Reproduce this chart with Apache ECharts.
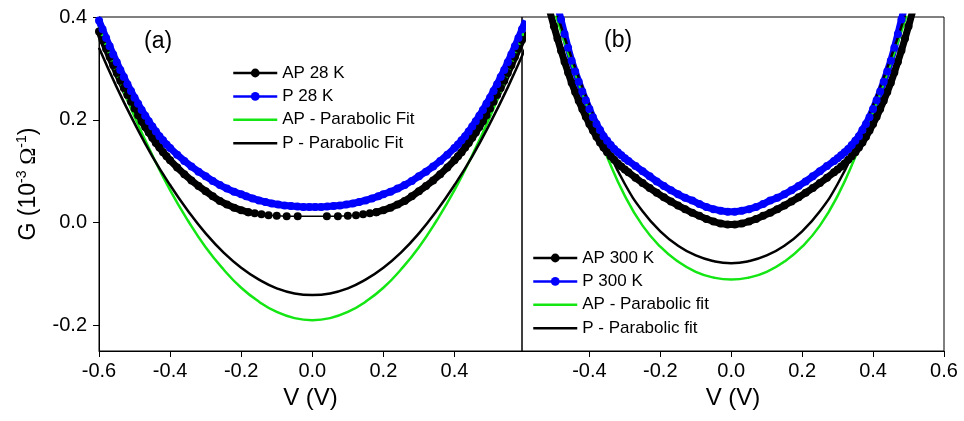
<!DOCTYPE html>
<html>
<head>
<meta charset="utf-8">
<script src="https://cdn.jsdelivr.net/npm/echarts@6/dist/echarts.min.js"></script>
<style>
  html, body { margin: 0; padding: 0; background: #fff; }
  #chart { width: 964px; height: 421px; }
</style>
</head>
<body>
<div id="chart"></div>
<script>
// panel (a): 28 K
const vAP28 = [-0.6, -0.59, -0.58, -0.57, -0.56, -0.55, -0.54, -0.53, -0.52, -0.51, -0.5, -0.49, -0.48, -0.47, -0.46, -0.45, -0.44, -0.43, -0.42, -0.41, -0.4,
  -0.38, -0.36, -0.34, -0.32, -0.3, -0.28, -0.26, -0.24, -0.22, -0.2, -0.18, -0.162, -0.143, -0.123, -0.1, -0.072, -0.041,
  0.041, 0.072, 0.1, 0.123, 0.143, 0.162, 0.18, 0.2, 0.22, 0.24, 0.26, 0.28, 0.3, 0.32, 0.34, 0.36, 0.38,
  0.4, 0.41, 0.42, 0.43, 0.44, 0.45, 0.46, 0.47, 0.48, 0.49, 0.5, 0.51, 0.52, 0.53, 0.54, 0.55, 0.56, 0.57, 0.58, 0.59, 0.6];
const gAP28 = [0.372, 0.355, 0.338, 0.322, 0.306, 0.291, 0.276, 0.262, 0.248, 0.235, 0.222, 0.209, 0.197, 0.186, 0.175, 0.165, 0.155, 0.146, 0.137, 0.129, 0.121,
  0.107, 0.094, 0.082, 0.071, 0.061, 0.051, 0.042, 0.035, 0.029, 0.024, 0.02, 0.018, 0.016, 0.014, 0.013, 0.012, 0.012,
  0.012, 0.012, 0.013, 0.014, 0.016, 0.018, 0.02, 0.024, 0.029, 0.035, 0.042, 0.051, 0.061, 0.071, 0.082, 0.094, 0.107,
  0.121, 0.129, 0.137, 0.146, 0.155, 0.165, 0.175, 0.186, 0.197, 0.209, 0.222, 0.235, 0.248, 0.262, 0.276, 0.291, 0.306, 0.322, 0.338, 0.355, 0.372];

const vP28 = [-0.6, -0.59, -0.58, -0.57, -0.56, -0.55, -0.54, -0.53, -0.52, -0.51, -0.5, -0.49, -0.48, -0.47, -0.46, -0.45, -0.44, -0.43, -0.42, -0.41, -0.4,
  -0.38, -0.36, -0.34, -0.32, -0.3, -0.28, -0.26, -0.24, -0.22, -0.2, -0.186, -0.168, -0.15, -0.132, -0.114, -0.096, -0.078, -0.06, -0.042, -0.025, -0.008,
  0.008, 0.025, 0.042, 0.06, 0.078, 0.096, 0.114, 0.132, 0.15, 0.168, 0.186, 0.2, 0.22, 0.24, 0.26, 0.28, 0.3, 0.32, 0.34, 0.36, 0.38,
  0.4, 0.41, 0.42, 0.43, 0.44, 0.45, 0.46, 0.47, 0.48, 0.49, 0.5, 0.51, 0.52, 0.53, 0.54, 0.55, 0.56, 0.57, 0.58, 0.59, 0.6];
const gP28 = [0.393, 0.376, 0.359, 0.343, 0.327, 0.312, 0.297, 0.283, 0.269, 0.256, 0.243, 0.231, 0.219, 0.208, 0.197, 0.187, 0.177, 0.168, 0.16, 0.152, 0.145,
  0.132, 0.12, 0.109, 0.099, 0.09, 0.081, 0.073, 0.066, 0.06, 0.055, 0.051, 0.047, 0.043, 0.04, 0.037, 0.035, 0.033, 0.032, 0.031, 0.03, 0.03,
  0.03, 0.03, 0.031, 0.032, 0.033, 0.035, 0.037, 0.04, 0.043, 0.047, 0.051, 0.055, 0.06, 0.066, 0.073, 0.081, 0.09, 0.099, 0.109, 0.12, 0.132,
  0.145, 0.152, 0.16, 0.168, 0.177, 0.187, 0.197, 0.208, 0.219, 0.231, 0.243, 0.256, 0.269, 0.283, 0.297, 0.312, 0.327, 0.343, 0.359, 0.376, 0.393];

const vFit = [-0.6, -0.55, -0.5, -0.45, -0.4, -0.35, -0.3, -0.25, -0.2, -0.15, -0.1, -0.05, 0, 0.05, 0.1, 0.15, 0.2, 0.25, 0.3, 0.35, 0.4, 0.45, 0.5, 0.55, 0.6];
const gFitAP28 = [0.38, 0.289, 0.206, 0.131, 0.063, 0.004, -0.048, -0.091, -0.127, -0.154, -0.174, -0.186, -0.19,
  -0.186, -0.174, -0.154, -0.127, -0.091, -0.048, 0.004, 0.063, 0.131, 0.206, 0.289, 0.38];
const gFitP28 = [0.34, 0.263, 0.193, 0.129, 0.073, 0.023, -0.021, -0.058, -0.088, -0.111, -0.128, -0.138, -0.141,
  -0.138, -0.128, -0.111, -0.088, -0.058, -0.021, 0.023, 0.073, 0.129, 0.193, 0.263, 0.34];

// panel (b): 300 K
const v300 = [-0.52, -0.51, -0.5, -0.49, -0.48, -0.47, -0.46, -0.45, -0.44, -0.43, -0.42, -0.41, -0.4, -0.39, -0.38, -0.37, -0.36, -0.35, -0.34, -0.33, -0.32, -0.31, -0.3,
  -0.29, -0.27, -0.25, -0.23, -0.21, -0.19, -0.17, -0.15, -0.13, -0.11, -0.09, -0.07, -0.05, -0.03, -0.01,
  0.01, 0.03, 0.05, 0.07, 0.09, 0.11, 0.13, 0.15, 0.17, 0.19, 0.21, 0.23, 0.25, 0.27, 0.29,
  0.3, 0.31, 0.32, 0.33, 0.34, 0.35, 0.36, 0.37, 0.38, 0.39, 0.4, 0.41, 0.42, 0.43, 0.44, 0.45, 0.46, 0.47, 0.48, 0.49, 0.5, 0.51, 0.52];
const gAP300 = [0.433, 0.407, 0.382, 0.358, 0.335, 0.313, 0.292, 0.272, 0.254, 0.237, 0.221, 0.206, 0.192, 0.179, 0.167, 0.156, 0.146, 0.137, 0.129, 0.122, 0.115, 0.109, 0.103,
  0.098, 0.087, 0.077, 0.067, 0.058, 0.049, 0.041, 0.033, 0.026, 0.019, 0.013, 0.007, 0.002, -0.002, -0.004,
  -0.004, -0.002, 0.002, 0.007, 0.013, 0.019, 0.026, 0.033, 0.041, 0.049, 0.058, 0.067, 0.077, 0.087, 0.098,
  0.103, 0.109, 0.115, 0.122, 0.129, 0.137, 0.146, 0.156, 0.167, 0.179, 0.192, 0.206, 0.221, 0.237, 0.254, 0.272, 0.292, 0.313, 0.335, 0.358, 0.382, 0.407, 0.433];
const gP300 = [0.51, 0.48, 0.451, 0.423, 0.395, 0.367, 0.34, 0.315, 0.294, 0.274, 0.255, 0.238, 0.221, 0.205, 0.192, 0.18, 0.168, 0.159, 0.151, 0.143, 0.137, 0.131, 0.125,
  0.12, 0.11, 0.1, 0.09, 0.08, 0.071, 0.063, 0.055, 0.048, 0.043, 0.036, 0.03, 0.026, 0.023, 0.021,
  0.021, 0.023, 0.026, 0.03, 0.036, 0.043, 0.048, 0.055, 0.063, 0.071, 0.08, 0.09, 0.1, 0.11, 0.12,
  0.125, 0.131, 0.137, 0.143, 0.151, 0.159, 0.168, 0.18, 0.192, 0.205, 0.221, 0.238, 0.255, 0.274, 0.294, 0.315, 0.34, 0.367, 0.395, 0.423, 0.451, 0.48, 0.51];
const gFitAP300 = [0.66, 0.53, 0.415, 0.31, 0.215, 0.128, 0.052, -0.006, -0.047, -0.076, -0.096, -0.107, -0.111,
  -0.107, -0.096, -0.076, -0.047, -0.006, 0.052, 0.128, 0.215, 0.31, 0.415, 0.53, 0.66];
const gFitP300 = [0.67, 0.54, 0.425, 0.32, 0.228, 0.145, 0.075, 0.022, -0.017, -0.045, -0.064, -0.075, -0.079,
  -0.075, -0.064, -0.045, -0.017, 0.022, 0.075, 0.145, 0.228, 0.32, 0.425, 0.54, 0.67];

const gTicks = [-0.2, 0, 0.2, 0.4];
const vTicksA = [-0.6, -0.4, -0.2, 0, 0.2, 0.4];
const vTicksB = [-0.4, -0.2, 0, 0.2, 0.4, 0.6];

const FONT = '"Liberation Sans", Arial, sans-serif';
const GREEN = '#14e614';
const BLUE = '#0000ff';
const LINE_ICON = 'path://M0,0 L44,0 L44,2.6 L0,2.6 Z';

function pairs(xs, ys) {
  return xs.map((x, i) => [x, ys[i]]);
}

// dense measured points: a thick line under the dots keeps the band solid
function measured(name, data, color, axis, width) {
  return {
    name,
    type: 'line',
    xAxisIndex: axis,
    yAxisIndex: axis,
    data,
    symbol: 'circle',
    symbolSize: 8,
    showAllSymbol: true,
    itemStyle: { color },
    lineStyle: { color, width },
  };
}

function fit(name, ys, color, axis) {
  return {
    name,
    type: 'line',
    xAxisIndex: axis,
    yAxisIndex: axis,
    data: pairs(vFit, ys),
    symbol: 'none',
    smooth: true,
    z: 3,
    itemStyle: { color },
    lineStyle: { color, width: 2.5 },
  };
}

function xAxisFor(index, min, max, ticks) {
  return {
    type: 'value',
    gridIndex: index,
    min,
    max,
    name: 'V (V)',
    nameLocation: 'middle',
    nameGap: 35,
    nameTextStyle: { fontFamily: FONT, fontSize: 24, color: '#000' },
    axisLine: { onZero: false, lineStyle: { color: '#000', width: 1 } },
    axisTick: { customValues: ticks, length: 6, lineStyle: { color: '#000' } },
    axisLabel: {
      customValues: ticks,
      margin: 10,
      fontFamily: FONT,
      fontSize: 20,
      color: '#000',
      formatter: (v) => v.toFixed(1),
    },
    splitLine: { show: false },
  };
}

const legendBase = {
  orient: 'vertical',
  itemWidth: 44,
  itemHeight: 11,
  itemGap: 3.4,
  padding: 0,
  lineStyle: { width: 2.5 },
  textStyle: { fontFamily: FONT, fontSize: 17, color: '#000', lineHeight: 20 },
};

const ap28 = pairs(vAP28, gAP28);
const p28 = pairs(vP28, gP28);
const ap300 = pairs(v300, gAP300);
const p300 = pairs(v300, gP300);

const chart = echarts.init(document.getElementById('chart'));
chart.setOption({
  animation: false,
  backgroundColor: '#fff',
  grid: [
    { left: 99, top: 17, width: 423, height: 334, show: true, borderColor: '#000', borderWidth: 1 },
    { left: 522, top: 17, width: 422, height: 334, show: true, borderColor: '#000', borderWidth: 1 },
  ],
  xAxis: [xAxisFor(0, -0.6, 0.59, vTicksA), xAxisFor(1, -0.59, 0.6, vTicksB)],
  yAxis: [
    {
      type: 'value',
      gridIndex: 0,
      min: -0.25,
      max: 0.4,
      name: '{a|G (10}{s|-3}{o| Ω}{s|-1}{a|)}',
      nameLocation: 'middle',
      nameRotate: 90,
      nameGap: 56,
      nameTextStyle: {
        rich: {
          a: { fontFamily: FONT, fontSize: 23, color: '#000', lineHeight: 28 },
          o: { fontFamily: '"Liberation Serif", serif', fontSize: 23, color: '#000', lineHeight: 28 },
          s: { fontFamily: FONT, fontSize: 14, color: '#000', lineHeight: 28, verticalAlign: 'top' },
        },
      },
      axisLine: { show: true, onZero: false, lineStyle: { color: '#000', width: 1 } },
      axisTick: { customValues: gTicks, length: 6, lineStyle: { color: '#000' } },
      axisLabel: {
        customValues: gTicks,
        margin: 12,
        fontFamily: FONT,
        fontSize: 20,
        color: '#000',
        formatter: (v) => v.toFixed(1),
      },
      splitLine: { show: false },
    },
    { type: 'value', gridIndex: 1, min: -0.25, max: 0.4, show: false, splitLine: { show: false } },
  ],
  legend: [
    {
      ...legendBase,
      left: 232,
      top: 63,
      data: ['AP 28 K', 'P 28 K', { name: 'AP - Parabolic Fit', icon: LINE_ICON }, { name: 'P - Parabolic Fit', icon: LINE_ICON }],
    },
    {
      ...legendBase,
      left: 532,
      top: 248,
      data: ['AP 300 K', 'P 300 K', { name: 'AP - Parabolic fit', icon: LINE_ICON }, { name: 'P - Parabolic fit', icon: LINE_ICON }],
    },
  ],
  graphic: [
    { type: 'text', left: 144, top: 30, style: { text: '(a)', font: '23px "Liberation Sans"', fill: '#000' } },
    { type: 'text', left: 604, top: 29, style: { text: '(b)', font: '23px "Liberation Sans"', fill: '#000' } },
  ],
  series: [
    // AP 28 K: solid band outside |V| = 0.18, separate dots with a thin line inside
    measured('AP 28 K', ap28.filter((p) => p[0] <= -0.18), '#000', 0, 7),
    measured('AP 28 K', ap28.filter((p) => Math.abs(p[0]) <= 0.18), '#000', 0, 1.5),
    measured('AP 28 K', ap28.filter((p) => p[0] >= 0.18), '#000', 0, 7),
    measured('P 28 K', p28, BLUE, 0, 7),
    fit('AP - Parabolic Fit', gFitAP28, GREEN, 0),
    fit('P - Parabolic Fit', gFitP28, '#000', 0),
    measured('AP 300 K', ap300, '#000', 1, 7),
    measured('P 300 K', p300, BLUE, 1, 7),
    fit('AP - Parabolic fit', gFitAP300, GREEN, 1),
    fit('P - Parabolic fit', gFitP300, '#000', 1),
  ],
});
</script>
</body>
</html>
